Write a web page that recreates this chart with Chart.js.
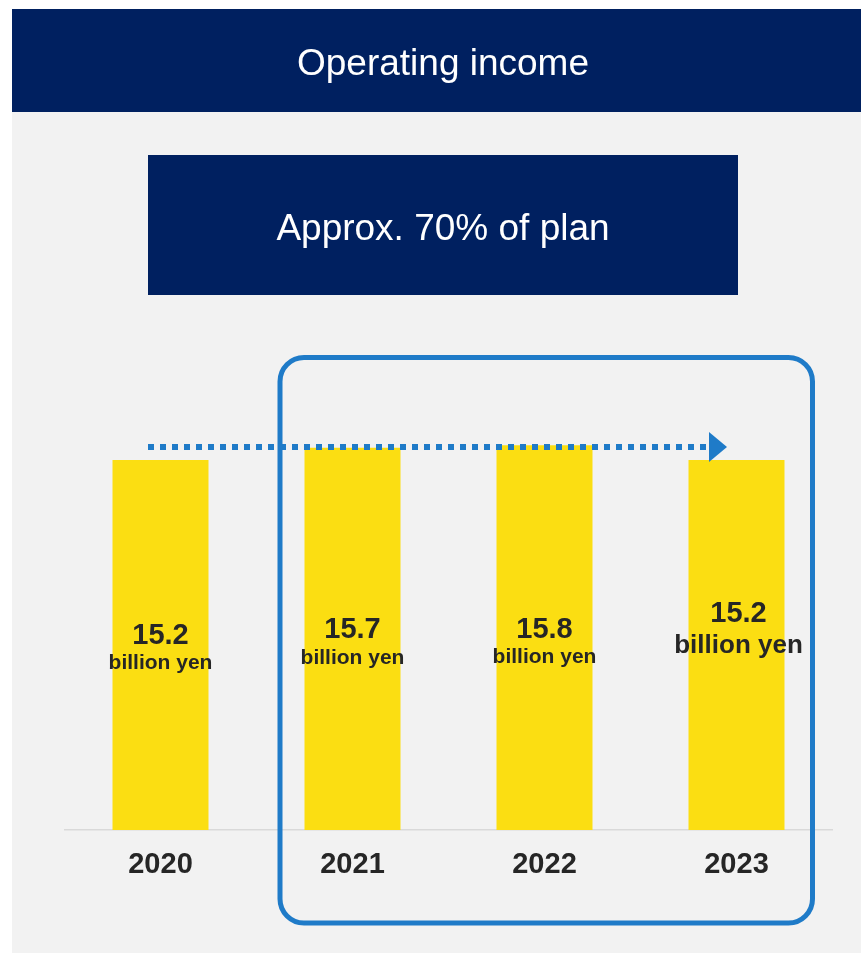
<!DOCTYPE html>
<html>
<head>
<meta charset="utf-8">
<script src="https://cdn.jsdelivr.net/npm/chart.js@4.4.1/dist/chart.umd.min.js"></script>
<style>
  html, body { margin: 0; padding: 0; background: #ffffff; }
  #wrap { width: 861px; height: 953px; position: relative; }
</style>
</head>
<body>
<div id="wrap"><canvas id="myChart"></canvas></div>
<script>
// chart data
const years = ['2020', '2021', '2022', '2023'];
const income = [15.2, 15.7, 15.8, 15.2];
const valueLabels = ['15.2', '15.7', '15.8', '15.2'];
const unitLabel = 'billion yen';
const titleText = 'Operating income';
const subtitleText = 'Approx. 70% of plan';

const FONT = "'Liberation Sans', Arial, sans-serif";
const NAVY = '#002060';
const BLUE = '#1F7BC8';
const INK = '#262626';

// label placement inside each bar (baselines in px, unit font size)
const labelLayout = [
    {dx: 0, valueY: 644, unitY: 669, unitSize: 21},
    {dx: 0, valueY: 638, unitY: 664, unitSize: 21},
    {dx: 0, valueY: 638, unitY: 663, unitSize: 21},
    {dx: 2, valueY: 622, unitY: 653, unitSize: 26}
];

const backdrop = {
    id: 'backdrop',
    beforeDraw(chart) {
        const ctx = chart.ctx;
        ctx.save();
        ctx.fillStyle = '#ffffff';
        ctx.fillRect(0, 0, chart.width, chart.height);
        ctx.fillStyle = '#F2F2F2';
        ctx.fillRect(12, 112, chart.width - 12, chart.height - 112);
        ctx.fillStyle = NAVY;
        ctx.fillRect(12, 9, chart.width - 12, 103);
        ctx.fillRect(148, 155, 590, 140);
        ctx.fillStyle = '#ffffff';
        ctx.textAlign = 'center';
        ctx.textBaseline = 'alphabetic';
        ctx.font = '37px ' + FONT;
        ctx.fillText(titleText, 443, 75);
        ctx.fillText(subtitleText, 443, 240);
        ctx.restore();
    }
};

const overlay = {
    id: 'overlay',
    afterDatasetsDraw(chart) {
        const ctx = chart.ctx;
        const bars = chart.getDatasetMeta(0).data;
        ctx.save();
        ctx.fillStyle = INK;
        ctx.textAlign = 'center';
        ctx.textBaseline = 'alphabetic';
        bars.forEach((bar, i) => {
            const l = labelLayout[i];
            ctx.font = 'bold 29px ' + FONT;
            ctx.fillText(valueLabels[i], bar.x + l.dx, l.valueY);
            ctx.font = 'bold ' + l.unitSize + 'px ' + FONT;
            ctx.fillText(unitLabel, bar.x + l.dx, l.unitY);
        });

        // dotted arrow
        ctx.strokeStyle = BLUE;
        ctx.lineWidth = 6;
        ctx.setLineDash([6, 6]);
        ctx.beginPath();
        ctx.moveTo(148, 447);
        ctx.lineTo(708, 447);
        ctx.stroke();
        ctx.setLineDash([]);
        ctx.fillStyle = BLUE;
        ctx.beginPath();
        ctx.moveTo(709, 432);
        ctx.lineTo(727, 447);
        ctx.lineTo(709, 462);
        ctx.closePath();
        ctx.fill();

        // rounded frame round 2021-2023
        ctx.lineWidth = 5;
        ctx.beginPath();
        ctx.roundRect(280, 357.5, 532.5, 565.5, 24);
        ctx.stroke();
        ctx.restore();
    }
};

new Chart('myChart', {
    type: 'bar',
    data: {
        labels: years,
        datasets: [{
            data: income,
            backgroundColor: '#FBDE12',
            borderWidth: 0,
            barPercentage: 0.5,
            categoryPercentage: 1.0
        }]
    },
    options: {
        responsive: true,
        maintainAspectRatio: false,
        animation: false,
        devicePixelRatio: 1,
        layout: {padding: {left: 64.5, right: 28.5, top: 343, bottom: 52.2}},
        plugins: {
            legend: {display: false},
            tooltip: {enabled: false}
        },
        scales: {
            x: {
                grid: {display: false, drawTicks: false},
                border: {display: true, color: '#D9D9D9', width: 1.5},
                ticks: {
                    color: INK,
                    padding: 18,
                    font: {family: FONT, size: 29, weight: 'bold'}
                }
            },
            y: {
                display: false,
                min: 0,
                max: 20
            }
        }
    },
    plugins: [backdrop, overlay]
});
</script>
</body>
</html>
